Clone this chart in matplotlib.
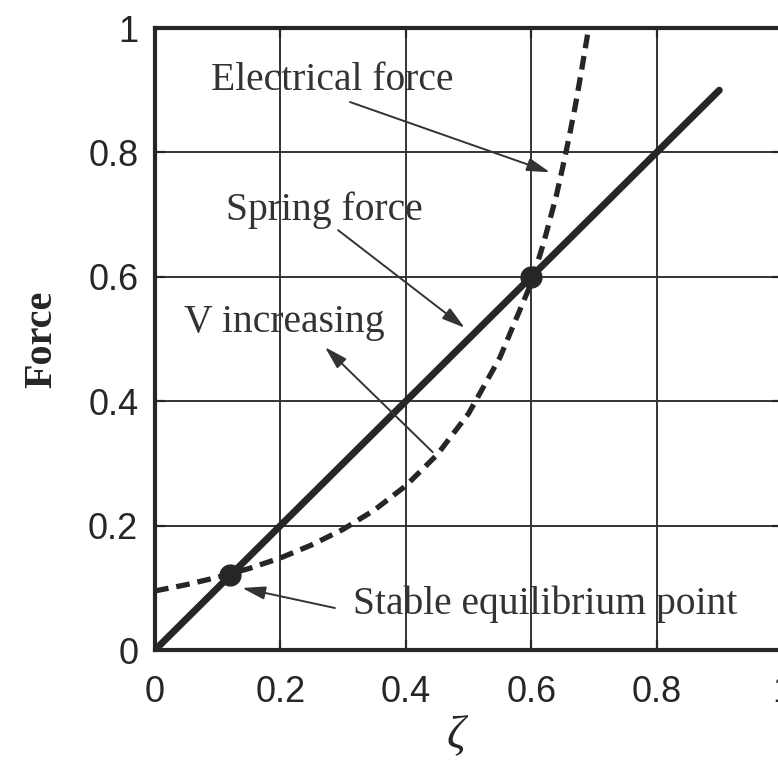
import matplotlib
matplotlib.use("Agg")
import matplotlib.pyplot as plt

# spring force (straight line) and electrical force (dashed curve)
spring_x = [0.0, 0.9]
spring_y = [0.0, 0.9]

elec_x = [0.0, 0.05, 0.1, 0.15, 0.2, 0.25, 0.3, 0.35, 0.4, 0.45, 0.5, 0.55,
          0.6, 0.62, 0.64, 0.65, 0.66, 0.67, 0.68, 0.69, 0.695]
elec_y = [0.095, 0.105, 0.117, 0.131, 0.148, 0.169, 0.194, 0.225, 0.264, 0.314,
          0.38, 0.47, 0.59, 0.655, 0.73, 0.775, 0.822, 0.873, 0.93, 0.99, 1.02]

eq_x = [0.12, 0.6]
eq_y = [0.12, 0.6]

ticks = [0, 0.2, 0.4, 0.6, 0.8, 1]
tick_labels = ["0", "0.2", "0.4", "0.6", "0.8", "1"]

dark = "#262626"
serif = ["Liberation Serif", "DejaVu Serif"]

fig = plt.figure(figsize=(7.78, 7.62), dpi=100)
ax = fig.add_axes([155 / 778, 112 / 762, 627 / 778, 622 / 762])

ax.plot(spring_x, spring_y, color=dark, lw=5, solid_capstyle="round", zorder=3)
ax.plot(elec_x, elec_y, color=dark, lw=3.8, dashes=(2.6, 1.5), zorder=3)
ax.plot(eq_x, eq_y, "o", color=dark, ms=15, zorder=4)

ax.set_xlim(0, 1)
ax.set_ylim(0, 1)
ax.set_xticks(ticks)
ax.set_yticks(ticks)
ax.set_xticklabels(tick_labels)
ax.set_yticklabels(tick_labels)
ax.tick_params(direction="in", length=7, width=1.6, top=True, right=True,
               labelsize=26, colors=dark)
ax.tick_params(axis="y", pad=12)
ax.tick_params(axis="x", pad=18)
for lab in ax.get_xticklabels() + ax.get_yticklabels():
    lab.set_fontfamily("Liberation Sans")
ax.grid(True, color="#333333", lw=1.4)
for s in ax.spines.values():
    s.set_linewidth(3)
    s.set_color(dark)

ax.set_ylabel("Force", fontsize=29, fontweight="bold", family=serif,
              color=dark, labelpad=20)
ax.set_xlabel("ζ", fontsize=33, style="italic", family=serif, color=dark,
              labelpad=0)
ax.xaxis.set_label_coords(0.48, -0.105)

ann = dict(fontsize=28.5, family=serif, color="#333333", ha="center", va="center")
arr = dict(arrowstyle="-|>,head_length=1.4,head_width=0.4", color="#333333",
           lw=1.4, shrinkA=0, shrinkB=0)

ax.text(0.282, 0.916, "Electrical force", **ann)
ax.annotate("", xy=(0.630, 0.768), xytext=(0.311, 0.881), arrowprops=arr)

ax.text(0.27, 0.707, "Spring force", **ann)
ax.annotate("", xy=(0.494, 0.518), xytext=(0.292, 0.675), arrowprops=arr)

ax.text(0.207, 0.527, "V increasing", **ann)
ax.annotate("", xy=(0.271, 0.487), xytext=(0.443, 0.318), arrowprops=arr)

ax.text(0.622, 0.074, "Stable equilibrium point", **ann)
ax.annotate("", xy=(0.139, 0.0997), xytext=(0.287, 0.0675), arrowprops=arr)

fig.savefig("out.png", dpi=100)
